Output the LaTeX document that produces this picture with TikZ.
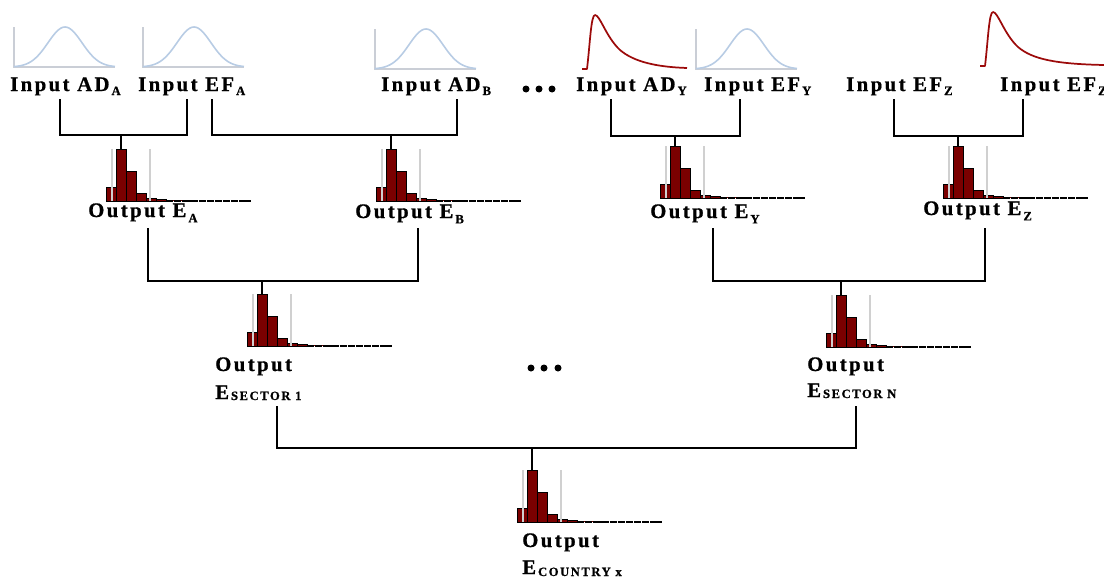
\documentclass[tikz,border=0pt]{standalone}
\usepackage{fontspec}
\setmainfont{Liberation Serif}[LetterSpace=12, BoldFeatures={FakeBold=0.8}]

\definecolor{bellblue}{HTML}{B8CCE4}
\definecolor{axisgray}{HTML}{CACED6}
\definecolor{skewred}{HTML}{9C0A0A}
\definecolor{barred}{HTML}{7B0000}
\definecolor{guidegray}{HTML}{D0D0D0}

\newcommand\lblfont{\fontsize{15.5}{18}\selectfont\bfseries}
\newcommand\lowsub[2][3pt]{\hspace{1.5pt}\raisebox{-#1}{\fontsize{9.5}{11}\selectfont #2}}

\begin{document}
\begin{tikzpicture}[x=0.75pt, y=-0.75pt,
  lbl/.style={font=\lblfont, inner sep=0pt, anchor=base west},
  link/.style={draw=black, line width=1.2pt},
  bellline/.style={draw=bellblue, line width=1.2pt},
  bellaxis/.style={draw=axisgray, line width=0.9pt},
  skewline/.style={draw=skewred, line width=1.3pt, line join=round},
  bar/.style={fill=barred, draw=black, line width=0.6pt},
  guide/.style={draw=guidegray, line width=0.9pt},
  pics/bell/.style={code={
    \draw[bellaxis] (0,-40) -- (0,0) -- (101,0);
    \draw[bellline] plot[domain=0:101, samples=60, smooth]
      (\x, {-40*exp(-0.5*((\x-51)/17)^2)});
  }},
  pics/skew/.style={code={
    \draw[skewline] (0,0) -- (5,0) .. controls (8,-25) and (9,-54) .. (13,-54)
      .. controls (18,-54) and (24,-32) .. (38,-19)
      .. controls (52,-7) and (75,-2) .. (#1,-1);
  }},
  pics/hist/.style={code={
    \path[bar] (0,0) rectangle (10,-14) (10,0) rectangle (20,-52)
      (20,0) rectangle (30,-30) (30,0) rectangle (40,-8)
      (40,0) rectangle (50,-3) (50,0) rectangle (60,-1.5);
    \fill[barred] (60,0) rectangle (90,-1);
    \draw[guide] (6,0) -- (6,-52) (44,0) -- (44,-52);
    \draw[black, line width=0.8pt, dash pattern=on 5.5pt off 0.6pt] (60,0) -- (145,0);
    \coordinate (-top) at (15,-52);
  }}
]
\useasboundingbox (0,0) rectangle (1104,578);

% input distributions
\pic at (14,67) {bell};
\pic at (143,67) {bell};
\pic at (375,69) {bell};
\pic at (696,69) {bell};
\pic at (582,69) {skew=105};
\pic at (980,66) {skew=124};

% input labels
\node[lbl] (inADA) at (10,91) {Input AD\lowsub{A}};
\node[lbl] (inEFA) at (138,91) {Input EF\lowsub{A}};
\node[lbl] (inADB) at (381,91) {Input AD\lowsub{B}};
\node[lbl] (inADY) at (576,91) {Input AD\lowsub{Y}};
\node[lbl] (inEFY) at (704,91) {Input EF\lowsub{Y}};
\node[lbl] (inEFZ) at (846,91) {Input EF\lowsub{Z}};
\node[lbl] (inEFZb) at (1000,91) {Input EF\lowsub{Z}};

% ellipses
\fill (526,89) circle[radius=3.5] (539,89) circle[radius=3.5] (552,89) circle[radius=3.5];
\fill (531,368) circle[radius=3.5] (544,368) circle[radius=3.5] (558,368) circle[radius=3.5];

% output histograms
\pic (hA) at (106,201) {hist};
\pic (hB) at (376,201) {hist};
\pic (hY) at (660,198) {hist};
\pic (hZ) at (943,198) {hist};
\pic (hS1) at (247,346) {hist};
\pic (hSN) at (826,347) {hist};
\pic (hC) at (517,522) {hist};

% output labels
\node[lbl] (outA) at (88,217) {Output E\lowsub[4pt]{A}};
\node[lbl] (outB) at (355,218) {Output E\lowsub[4pt]{B}};
\node[lbl] (outY) at (650,218) {Output E\lowsub[4pt]{Y}};
\node[lbl] (outZ) at (923,215) {Output E\lowsub[4pt]{Z}};
\node[lbl] (outS1) at (215,371) {Output};
\node[lbl] (outS1e) at (215,399) {E\lowsub[0.75pt]{SECTOR 1}};
\node[lbl] (outSN) at (807,371) {Output};
\node[lbl] (outSNe) at (807,397) {E\lowsub[0.75pt]{SECTOR N}};
\node[lbl] (outC) at (522,547) {Output};
\node[lbl] (outCe) at (522,574) {E\lowsub[1.5pt]{COUNTRY x}};

% connector end points under the labels
\coordinate (tADA) at (60,99);
\coordinate (tEFA1) at (187,99);
\coordinate (tEFA2) at (212,99);
\coordinate (tADB) at (457,99);
\coordinate (tADY) at (611,99);
\coordinate (tEFY) at (740,99);
\coordinate (tEFZ) at (894,99);
\coordinate (tEFZb) at (1023,99);
\coordinate (tA) at (148,228);
\coordinate (tB) at (418,228);
\coordinate (tY) at (713,228);
\coordinate (tZ) at (985,228);
\coordinate (tS1) at (277,406);
\coordinate (tSN) at (856,406);
% levels of the joining lines
\coordinate (jA) at (0,135);
\coordinate (jB) at (0,135);
\coordinate (jY) at (0,136);
\coordinate (jZ) at (0,136);
\coordinate (jS1) at (0,281);
\coordinate (jSN) at (0,281);
\coordinate (jC) at (0,448);

% inputs -> outputs
\draw[link] (tADA) -- (tADA |- jA) -- (tEFA1 |- jA) -- (tEFA1);
\draw[link] (hA-top) -- (hA-top |- jA);
\draw[link] (tEFA2) -- (tEFA2 |- jB) -- (tADB |- jB) -- (tADB);
\draw[link] (hB-top) -- (hB-top |- jB);
\draw[link] (tADY) -- (tADY |- jY) -- (tEFY |- jY) -- (tEFY);
\draw[link] (hY-top) -- (hY-top |- jY);
\draw[link] (tEFZ) -- (tEFZ |- jZ) -- (tEFZb |- jZ) -- (tEFZb);
\draw[link] (hZ-top) -- (hZ-top |- jZ);

% outputs -> sectors
\draw[link] (tA) -- (tA |- jS1) -- (tB |- jS1) -- (tB);
\draw[link] (hS1-top) -- (hS1-top |- jS1);
\draw[link] (tY) -- (tY |- jSN) -- (tZ |- jSN) -- (tZ);
\draw[link] (hSN-top) -- (hSN-top |- jSN);

% sectors -> country
\draw[link] (tS1) -- (tS1 |- jC) -- (tSN |- jC) -- (tSN);
\draw[link] (hC-top) -- (hC-top |- jC);
\end{tikzpicture}
\end{document}
